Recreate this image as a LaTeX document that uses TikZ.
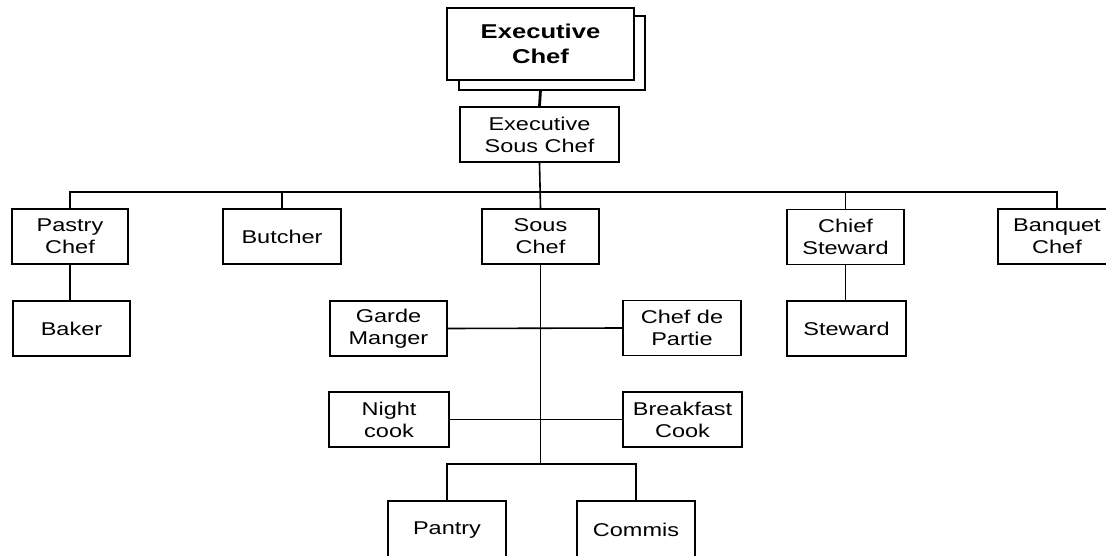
\documentclass[tikz,border=0pt]{standalone}
\usepackage{fontspec}
\setmainfont[FakeStretch=1.27]{Liberation Sans}
\newfontfamily\ecfont[FakeStretch=1.28]{Liberation Sans}
\begin{document}
\begin{tikzpicture}[x=1pt,y=-1pt,
  box/.style={draw, line width=1.8pt, minimum width=117pt, minimum height=55pt,
    inner sep=0pt, align=center, font=\fontsize{18.5}{22}\selectfont},
  link/.style={line width=1.6pt},
  shadowline/.style={line width=1.8pt},
  stemline/.style={line width=2.8pt}]
\useasboundingbox (0,0) rectangle (1106,556);
\clip (0,0) rectangle (1106,556);
% nodes
\node[box, minimum width=187pt, minimum height=72pt, font=\ecfont\bfseries\fontsize{20}{25}\selectfont] (ec) at (540.5,44) {Executive\\Chef};
\node[box, minimum width=159pt] (esc) at (539.5,134.5) {Executive\\Sous Chef};
\node[box, minimum width=116pt] (pastry) at (70,236.5) {Pastry\\Chef};
\node[box] (baker) at (71.5,328.5) {Baker};
\node[box, minimum width=118pt] (butcher) at (282,236.5) {Butcher};
\node[box] (sous) at (540.5,236.5) {Sous\\Chef};
\node[box] (chiefst) at (845.5,237) {Chief\\Steward};
\node[box, minimum width=118pt] (banquet) at (1057,236.5) {Banquet\\Chef};
\node[box, minimum width=119pt] (steward) at (846.5,328.5) {Steward};
\node[box] (garde) at (388.5,328.5) {Garde\\Manger};
\node[box, minimum width=118pt] (cdp) at (682,328) {Chef de\\Partie};
\node[box, minimum width=120pt] (night) at (389,419.5) {Night\\cook};
\node[box, minimum width=119pt] (breakfast) at (682.5,419.5) {Breakfast\\Cook};
\node[box, minimum width=118pt, minimum height=58pt] (pantry) at (447,530) {Pantry};
\node[box, minimum width=118pt, minimum height=58pt] (commis) at (636,530) {Commis};
% helper coordinates
\coordinate (bus) at (540,192);
\coordinate (j) at (540,464);
% shadow of executive chef box
\draw[shadowline] ([yshift=-9pt]ec.north east) -- ++(10,0) |- ([xshift=13pt,yshift=-9pt]ec.south west) -- ([xshift=13pt]ec.south west);
\draw[stemline] ([yshift=-9pt]ec.south) -- (esc.north);
% connectors
\draw[link] (esc.south) -- (sous.north);
\draw[link] (pastry.north) -- (pastry.north |- bus) -- (banquet.north |- bus) -- (banquet.north);
\draw[link] (butcher.north) -- (butcher.north |- bus);
\draw[link] (chiefst.north) -- (chiefst.north |- bus);
\draw[link] (pastry.south) -- (pastry.south |- baker.north);
\draw[link] (chiefst.south) -- (chiefst.south |- steward.north);
\draw[link] (sous.south) -- (sous.south |- j);
\draw[link] (garde.east) -- (cdp.west);
\draw[link] (night.east) -- (breakfast.west);
\draw[link] (pantry.north) -- (pantry.north |- j) -- (commis.north |- j) -- (commis.north);
\end{tikzpicture}
\end{document}
